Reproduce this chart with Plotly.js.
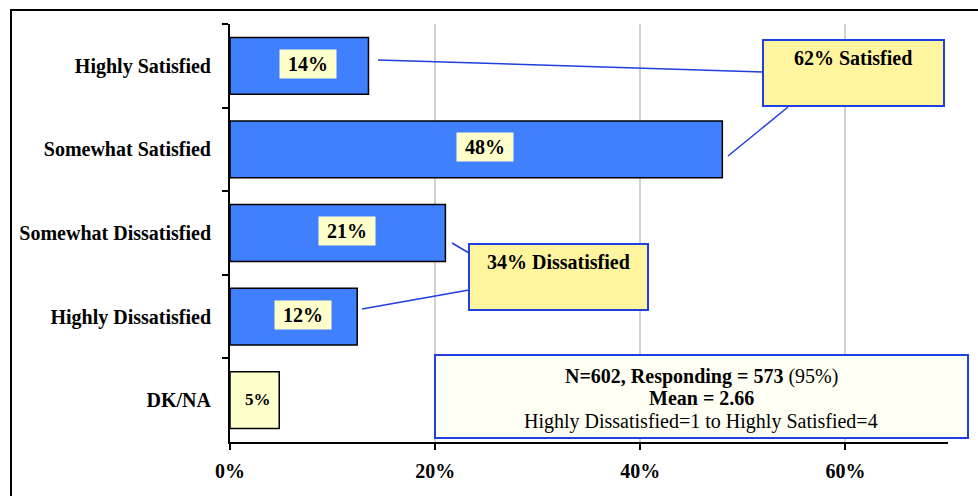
<!DOCTYPE html>
<html>
<head>
<meta charset="utf-8">
<script src="https://cdn.plot.ly/plotly-3.0.1.min.js"></script>
<style>
html,body{margin:0;padding:0;background:#fff;}
#chart{width:978px;height:496px;}
</style>
</head>
<body>
<div id="chart"></div>
<script>
// ---- data ----
const categories = ["Highly Satisfied", "Somewhat Satisfied", "Somewhat Dissatisfied", "Highly Dissatisfied", "DK/NA"];
const values = [13.5, 48, 21, 12.4, 4.8];
const valueLabels = ["14%", "48%", "21%", "12%", "5%"];
const xTickVals = [0, 20, 40, 60];
const xTickText = ["0%", "20%", "40%", "60%"];
const satisfiedText = "62% Satisfied";
const dissatisfiedText = "34% Dissatisfied";
const infoLines = ["<b>N=602, Responding = 573</b> (95%)", "<b>Mean = 2.66</b>", "Highly Dissatisfied=1 to Highly Satisfied=4"];

// ---- layout geometry ----
const W = 978, H = 496, L = 230, R = 30, T = 24, B = 54;
const pw = W - L - R, ph = H - T - B;
const px = x => (x - L) / pw;
const py = y => (H - B - y) / ph;
const FONT = "Liberation Serif, Times New Roman, serif";
const BLUE = "#1f3fe0";

const barColors = categories.map(c => c === "DK/NA" ? "#ffffcc" : "#4080ff");

const trace = {
  type: "bar",
  orientation: "h",
  y: categories,
  x: values,
  width: 0.68,
  marker: {color: barColors, line: {color: "#000", width: 1.5}},
  hoverinfo: "skip"
};

const annotations = [];
categories.forEach((c, i) => {
  const isDK = c === "DK/NA";
  annotations.push({
    xref: "x", yref: "y",
    x: values[i] / 2 + (isDK ? 0.3 : 0.9), y: c,
    yshift: isDK ? 1 : 2,
    text: isDK ? "<b>" + valueLabels[i] + "</b>" : "<b>\u00a0" + valueLabels[i] + "\u00a0</b>",
    showarrow: false,
    font: {family: FONT, size: isDK ? 17 : 20, color: "#000"},
    bgcolor: "#ffffcc",
    borderpad: isDK ? 1 : 3
  });
});

const textAt = (cx, cy, txt, size) => ({
  xref: "paper", yref: "paper",
  x: px(cx), y: py(cy), xanchor: "center", yanchor: "middle",
  text: txt, showarrow: false,
  font: {family: FONT, size: size, color: "#000"}
});

const box = (x0, y0, x1, y1, fill) => ({
  type: "rect", xref: "paper", yref: "paper",
  x0: px(x0), y0: py(y0), x1: px(x1), y1: py(y1),
  line: {color: BLUE, width: 2}, fillcolor: fill, layer: "above"
});

const line = (x0, y0, x1, y1) => ({
  type: "line", xref: "paper", yref: "paper",
  x0: px(x0), y0: py(y0), x1: px(x1), y1: py(y1),
  line: {color: BLUE, width: 1.5}, layer: "above"
});

annotations.push(textAt(853, 58, "<b>" + satisfiedText + "</b>", 20));
annotations.push(textAt(558, 262, "<b>" + dissatisfiedText + "</b>", 20));
annotations.push(textAt(701, 376, infoLines[0], 20));
annotations.push(textAt(701, 398, infoLines[1], 20));
annotations.push(textAt(701, 421, infoLines[2], 20));

const shapes = [
  {type: "rect", xref: "paper", yref: "paper",
   x0: px(11), y0: py(10), x1: px(1000), y1: py(520),
   line: {color: "#000", width: 2}, fillcolor: "rgba(0,0,0,0)", layer: "below"},
  line(378, 60, 763, 72),
  line(788, 107, 728, 156),
  line(452, 243, 469, 253),
  line(362, 309, 469, 290),
  box(763, 40, 944, 106, "#fff59f"),
  box(469, 244, 648, 310, "#fff59f"),
  box(435, 355, 968, 438, "#fffff4")
];

const layout = {
  width: W, height: H,
  margin: {l: L, r: R, t: T, b: B, pad: 0},
  paper_bgcolor: "#fff", plot_bgcolor: "rgba(0,0,0,0)",
  showlegend: false,
  font: {family: FONT, color: "#000"},
  xaxis: {
    range: [0, 70], tickvals: xTickVals, ticktext: xTickText,
    showgrid: true, gridcolor: "#d0d0d0", gridwidth: 2,
    zeroline: false, showline: true, linecolor: "#000", linewidth: 2,
    ticks: "outside", ticklen: 6, tickwidth: 2, tickcolor: "#000",
    ticklabelstandoff: 4,
    tickfont: {family: FONT, size: 20, color: "#000", weight: "bold"},
    fixedrange: true
  },
  yaxis: {
    type: "category", categoryorder: "array", categoryarray: categories,
    autorange: "reversed",
    showgrid: false, zeroline: false, showline: true, linecolor: "#000", linewidth: 2,
    ticks: "outside", tickson: "boundaries", ticklen: 6, tickwidth: 2, tickcolor: "#000",
    ticklabelstandoff: 13,
    tickfont: {family: FONT, size: 20, color: "#000", weight: "bold"},
    fixedrange: true
  },
  annotations: annotations,
  shapes: shapes
};

Plotly.newPlot("chart", [trace], layout, {displayModeBar: false, staticPlot: true});
</script>
</body>
</html>
